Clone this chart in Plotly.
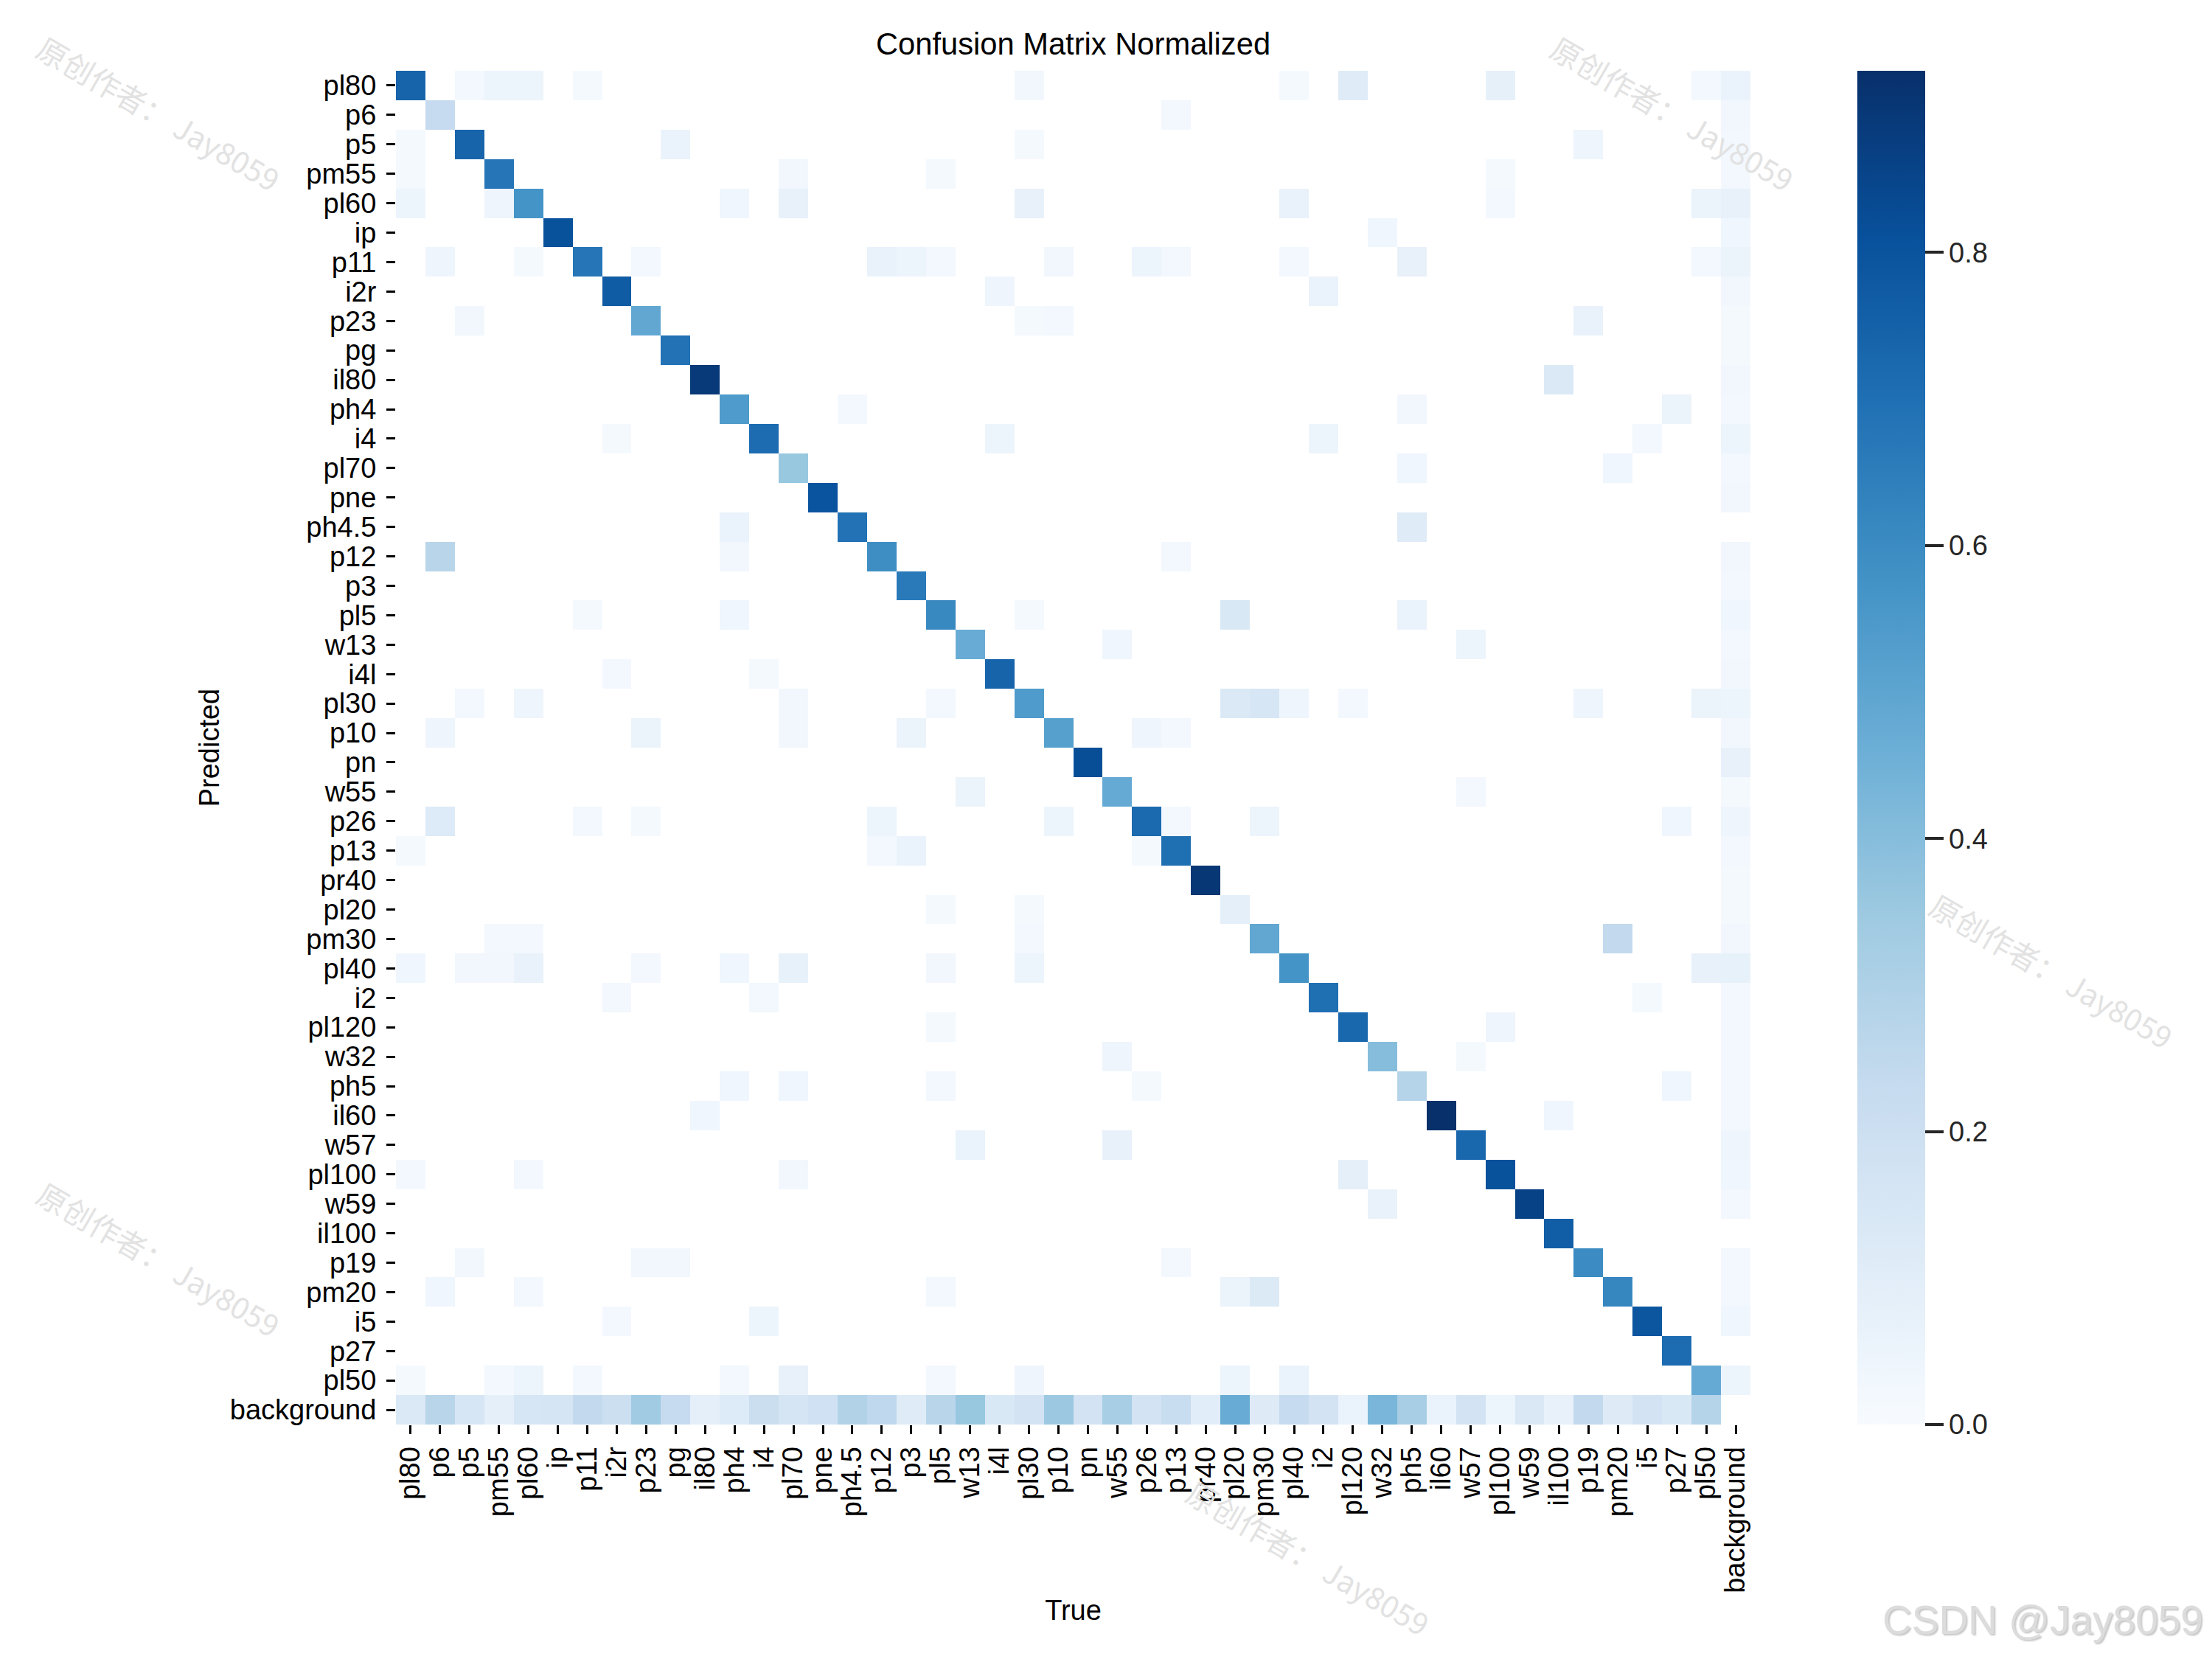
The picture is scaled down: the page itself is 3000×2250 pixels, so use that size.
import plotly.graph_objects as go

# Class order shared by both axes
labels = ["pl80","p6","p5","pm55","pl60","ip","p11","i2r","p23","pg","il80","ph4","i4","pl70","pne","ph4.5",
          "p12","p3","pl5","w13","i4l","pl30","p10","pn","w55","p26","p13","pr40","pl20","pm30","pl40","i2",
          "pl120","w32","ph5","il60","w57","pl100","w59","il100","p19","pm20","i5","p27","pl50","background"]

diagonal = [.74,.23,.74,.68,.57,.81,.68,.77,.49,.69,.89,.54,.71,.36,.80,.69,.59,.66,.61,.47,.74,.54,.52,.82,.48,
            .72,.70,.90,.09,.49,.57,.70,.73,.40,.28,.924,.73,.81,.86,.76,.60,.62,.79,.71,.48]

background_row = [.13,.27,.15,.09,.15,.16,.24,.20,.34,.23,.09,.12,.21,.16,.19,.29,.25,.11,.27,.36,.14,.17,.35,.17,
                  .32,.17,.22,.10,.47,.115,.23,.17,.06,.43,.32,.06,.17,.05,.135,.07,.24,.115,.17,.14,.28]

background_col = [.06,.03,.025,.02,.07,.035,.055,.03,.015,.015,.03,.02,.05,.025,.03,None,.03,.02,.035,.02,.03,.045,
                  .03,.07,.015,.04,.02,.015,.015,.03,.075,.02,.02,.02,.025,.02,.04,.035,.02,None,.02,.02,.035,None,.05]

# Off-diagonal confusions, by predicted row: {true label: value}
off_diagonal = {
    "pl80": {"p5":.02,"pm55":.05,"pl60":.05,"p11":.015,"pl30":.03,"pl40":.015,"pl120":.11,"pl100":.08,"pl50":.02},
    "p6": {"p13":.02},
    "p5": {"pl80":.015,"pg":.06,"pl30":.015,"p19":.04},
    "pm55": {"pl80":.015,"pl70":.03,"pl5":.015,"pl100":.015},
    "pl60": {"pl80":.05,"pm55":.04,"ph4":.035,"pl70":.07,"pl30":.07,"pl40":.065,"pl100":.02,"pl50":.055},
    "ip": {"w32":.035},
    "p11": {"p6":.04,"pl60":.015,"p23":.025,"p12":.065,"p3":.05,"pl5":.02,"p10":.03,"p26":.05,"p13":.025,
            "pl40":.02,"ph5":.07,"pl50":.025},
    "i2r": {"i4l":.04,"i2":.06},
    "p23": {"p5":.03,"pl30":.015,"p10":.025,"p19":.065},
    "il80": {"il100":.13},
    "ph4": {"ph4.5":.02,"ph5":.03,"p27":.055},
    "i4": {"i2r":.015,"i4l":.045,"i2":.045,"i5":.02},
    "pl70": {"ph5":.035,"pm20":.035},
    "ph4.5": {"ph4":.06,"ph5":.11},
    "p12": {"p6":.27,"ph4":.03,"p13":.02},
    "pl5": {"p11":.015,"ph4":.035,"pl30":.015,"pl20":.14,"ph5":.06},
    "w13": {"w55":.035,"w57":.05},
    "i4l": {"i2r":.02,"i4":.015},
    "pl30": {"p5":.02,"pl60":.04,"pl70":.03,"pl5":.02,"pl20":.13,"pm30":.15,"pl40":.04,"pl120":.02,"p19":.04,"pl50":.055},
    "p10": {"p6":.04,"p23":.055,"pl70":.03,"p3":.055,"p26":.04,"p13":.02},
    "w55": {"w13":.055,"w57":.025},
    "p26": {"p6":.12,"p11":.025,"p23":.015,"p12":.045,"p10":.045,"p13":.02,"pm30":.05,"p27":.035},
    "p13": {"pl80":.015,"p12":.025,"p3":.06,"p26":.015},
    "pl20": {"pl5":.015,"pl30":.015},
    "pm30": {"pm55":.025,"pl60":.02,"pl30":.025,"pm20":.24},
    "pl40": {"pl80":.035,"p5":.03,"pm55":.03,"pl60":.065,"p23":.02,"ph4":.035,"pl70":.075,"pl5":.03,"pl30":.05,"pl50":.07},
    "i2": {"i2r":.025,"i4":.025,"i5":.015},
    "pl120": {"pl5":.015,"pl100":.04},
    "w32": {"w55":.04,"w57":.015},
    "ph5": {"ph4":.035,"pl70":.035,"pl5":.02,"p26":.015,"p27":.035},
    "il60": {"il80":.035,"il100":.035},
    "w57": {"w13":.06,"w55":.07},
    "pl100": {"pl80":.02,"pl60":.02,"pl70":.03,"pl120":.09},
    "w59": {"w32":.065},
    "p19": {"p5":.03,"p23":.03,"pg":.03,"p13":.02},
    "pm20": {"p6":.035,"pl60":.02,"pl5":.025,"pl20":.055,"pm30":.125},
    "i5": {"i2r":.02,"i4":.045},
    "pl50": {"pl80":.015,"pm55":.025,"pl60":.05,"p11":.02,"ph4":.025,"pl70":.07,"pl5":.02,"pl30":.04,"pl20":.05,"pl40":.06},
}

colorbar_ticks = [0.0, 0.2, 0.4, 0.6, 0.8]
watermark_text = "原创作者： Jay8059"
watermark_centers = [(216, 153), (2269, 153), (2783, 1316), (216, 1707), (1775, 2112)]

n = len(labels)
z = [[None] * n for _ in range(n)]
for i, v in enumerate(diagonal):
    z[i][i] = v
for i, v in enumerate(background_row):
    z[n - 1][i] = v
for i, v in enumerate(background_col):
    z[i][n - 1] = v
for pred, row in off_diagonal.items():
    for true, v in row.items():
        z[labels.index(pred)][labels.index(true)] = v

W, H = 3000, 2250
L, R, T, B = 537, 2374, 96, 1932
INK = "#262626"

fig = go.Figure(go.Heatmap(
    z=z, x=labels, y=labels, colorscale="Blues", zmin=0, zmax=0.924, hoverongaps=False,
    colorbar=dict(
        x=(2519 - L) / (R - L), xanchor="left", xref="paper", xpad=0, ypad=0,
        y=0, yanchor="bottom", yref="paper", len=1, lenmode="fraction",
        thickness=92, thicknessmode="pixels", outlinewidth=0,
        tickmode="array", tickvals=colorbar_ticks, tickformat=".1f",
        ticks="outside", ticklen=25, tickwidth=4, tickcolor=INK,
        tickfont=dict(family="Liberation Sans", size=38, color=INK),
    ),
))

fig.update_layout(
    width=W, height=H, autosize=False,
    margin=dict(l=L, r=W - R, t=T, b=H - B, pad=0),
    paper_bgcolor="white", plot_bgcolor="white",
    font=dict(family="Liberation Sans", color="black"),
    title=dict(text="Confusion Matrix Normalized", x=0.5, xref="paper", xanchor="center",
               y=1 - 59 / H, yref="container", yanchor="middle",
               font=dict(family="Liberation Sans", size=41.7, color="black")),
)
axis_common = dict(type="category", categoryorder="array", categoryarray=labels, tickmode="array",
                   tickvals=labels, ticktext=labels, ticks="outside", ticklen=12, tickwidth=3, tickcolor="black",
                   tickfont=dict(family="Liberation Sans", size=38, color="black"),
                   showgrid=False, zeroline=False, showline=False, automargin=False)
fig.update_xaxes(**axis_common, tickangle=-90, ticklabelstandoff=2,
                 title=dict(text="True", standoff=10, font=dict(family="Liberation Sans", size=38, color="black")))
fig.update_yaxes(**axis_common, autorange="reversed", ticklabelstandoff=6,
                 title=dict(text="Predicted", standoff=2, font=dict(family="Liberation Sans", size=38, color="black")))

for cx, cy in watermark_centers:
    fig.add_annotation(text=watermark_text, x=(cx - L) / (R - L), y=(B - cy) / (B - T),
                       xref="x domain", yref="y domain",
                       showarrow=False, textangle=30, xanchor="center", yanchor="middle",
                       font=dict(family="Noto Sans CJK SC", size=41, color="#e2e2e2"))

fig.add_annotation(text="CSDN @Jay8059", xref="x domain", yref="y domain",
                   x=(2990 - L) / (R - L), y=(B - 2197) / (B - T), xanchor="right", yanchor="middle",
                   showarrow=False,
                   font=dict(family="Liberation Sans", size=55, color="#dcdcdc", shadow="2px 2px 2px #c8c8c8"))

fig.write_html("out.html", config={"displayModeBar": False}, post_script="document.body.style.margin='0';")
